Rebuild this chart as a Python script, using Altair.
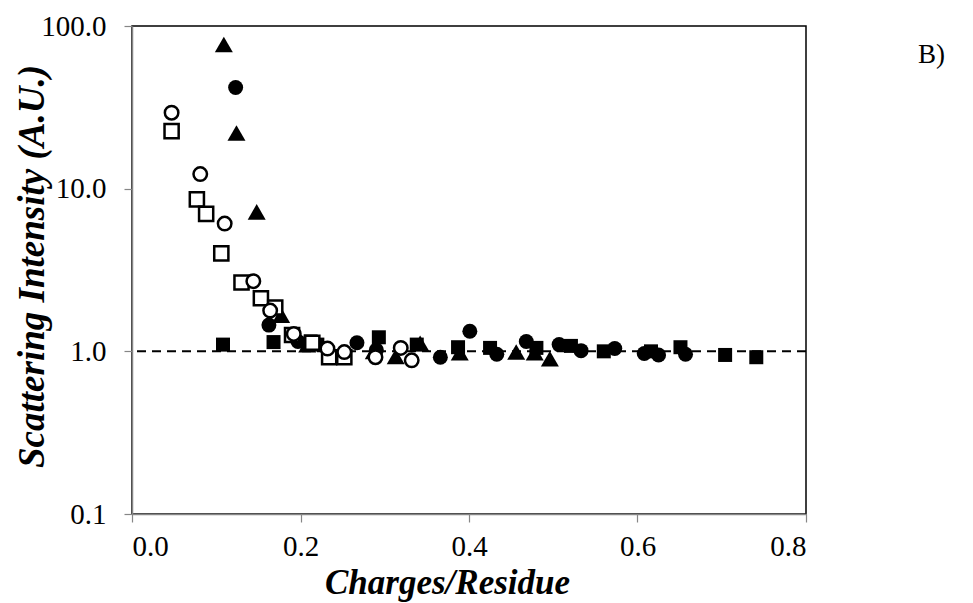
import altair as alt
import pandas as pd

# Open circles
oc_x = [0.047, 0.081, 0.110, 0.144, 0.164, 0.192, 0.232, 0.252, 0.289, 0.319, 0.332]
oc_y = [29.3, 12.3, 6.1, 2.7, 1.78, 1.28, 1.04, 0.99, 0.92, 1.05, 0.88]
# Open squares
os_x = [0.047, 0.077, 0.088, 0.106, 0.130, 0.153, 0.170, 0.190, 0.214, 0.234, 0.252]
os_y = [22.6, 8.6, 7.0, 4.0, 2.65, 2.12, 1.86, 1.26, 1.13, 0.92, 0.92]
# Filled triangles
ft_x = [0.109, 0.124, 0.148, 0.177, 0.208, 0.237, 0.287, 0.313, 0.342, 0.389, 0.456, 0.478, 0.496]
ft_y = [77.0, 22.0, 7.2, 1.67, 1.10, 1.00, 1.00, 0.93, 1.12, 0.98, 0.99, 0.98, 0.90]
# Filled circles
fc_x = [0.123, 0.1625, 0.197, 0.267, 0.290, 0.366, 0.401, 0.433, 0.468, 0.507, 0.533, 0.573, 0.608, 0.625, 0.657]
fc_y = [41.9, 1.45, 1.15, 1.13, 1.02, 0.92, 1.33, 0.96, 1.15, 1.10, 1.01, 1.04, 0.97, 0.95, 0.96]
# Filled squares
fs_x = [0.108, 0.168, 0.212, 0.220, 0.293, 0.338, 0.387, 0.425, 0.480, 0.521, 0.560, 0.616, 0.651, 0.704, 0.741]
fs_y = [1.10, 1.14, 1.15, 1.10, 1.22, 1.10, 1.06, 1.05, 1.05, 1.08, 1.00, 1.00, 1.06, 0.95, 0.92]

x_ticks = [0.0, 0.2, 0.4, 0.6, 0.8]
y_ticks = [0.1, 1.0, 10.0, 100.0]

FONT = "Liberation Serif"

xenc = alt.X("x:Q",
             scale=alt.Scale(domain=[0, 0.8], nice=False, zero=False),
             axis=alt.Axis(values=x_ticks, format=".1f", title="Charges/Residue",
                           grid=False, tickSize=8, labelPadding=10,
                           titleX=315, titleY=79, titleBaseline="alphabetic",
                           titleFontSize=35))
yenc = alt.Y("y:Q",
             scale=alt.Scale(type="log", domain=[0.1, 100], nice=False),
             axis=alt.Axis(values=y_ticks, format=".1f", title="Scattering Intensity (A.U.)",
                           grid=False, tickSize=8, labelPadding=18,
                           titleX=-89, titleY=240, titleAngle=270, titleBaseline="alphabetic",
                           titleFontSize=37))


def pts(xs, ys, shape, filled, size):
    df = pd.DataFrame({"x": xs, "y": ys})
    if filled:
        mk = alt.Chart(df).mark_point(shape=shape, size=size, filled=True,
                                      color="black", opacity=1, strokeWidth=0)
    else:
        mk = alt.Chart(df).mark_point(shape=shape, size=size, filled=True,
                                      fill="white", stroke="black", strokeWidth=2.5,
                                      opacity=1, fillOpacity=1, strokeOpacity=1)
    return mk.encode(x=xenc, y=yenc)


ref = alt.Chart(pd.DataFrame({"y": [1.0]})).mark_rule(
    color="black", strokeWidth=2, strokeDash=[9, 6]).encode(y=alt.Y("y:Q"))

label = alt.Chart(pd.DataFrame({"t": ["B)"]})).mark_text(
    font=FONT, fontSize=27, color="black", align="left", baseline="middle").encode(
    x=alt.value(786), y=alt.value(29), text="t:N")

chart = alt.layer(
    ref,
    pts(fc_x, fc_y, "circle", True, 225),
    pts(fs_x, fs_y, "square", True, 196),
    pts(ft_x, ft_y, "triangle-up", True, 324),
    pts(os_x, os_y, "square", False, 200),
    pts(oc_x, oc_y, "circle", False, 182),
    label,
).properties(
    width=674, height=488,
    padding={"left": 132, "top": 26, "right": 167, "bottom": 89},
    autosize=alt.AutoSizeParams(type="none"),
    background="white",
).configure_view(
    stroke="black", strokeWidth=1.5
).configure_axis(
    labelFont=FONT, labelFontSize=29, labelColor="black",
    titleFont=FONT, titleFontWeight="bold", titleFontStyle="italic",
    titleColor="black",
    domainColor="#868686", domainWidth=1.5, tickColor="#868686", tickWidth=1.2,
)

chart.save("out.html", embed_options={"renderer": "svg", "actions": False})
